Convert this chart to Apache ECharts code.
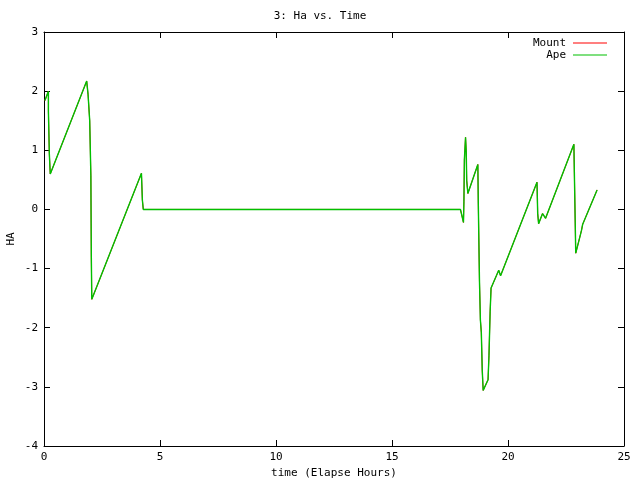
<!DOCTYPE html>
<html>
<head>
<meta charset="utf-8">
<script src="https://cdn.jsdelivr.net/npm/echarts@6/dist/echarts.min.js"></script>
<style>html,body{margin:0;padding:0;background:#fff}#c{width:640px;height:480px}</style>
</head>
<body>
<div id="c"></div>
<script>
// Elapsed hours and HA values
var hours = [0.04,0.19,0.19,0.23,0.27,1.84,1.90,1.97,2.02,2.04,2.06,4.20,4.24,4.28,17.95,18.00,18.04,18.08,18.10,18.12,18.17,18.20,18.22,18.27,18.70,18.72,18.77,18.81,18.85,18.89,18.93,19.14,19.18,19.23,19.27,19.60,19.68,21.25,21.28,21.32,21.49,21.62,22.84,22.86,22.90,22.92,23.12,23.17,23.22,23.84];
var mountHA = [1.84,2.00,1.66,0.94,0.60,2.17,1.94,1.50,0.57,-0.81,-1.52,0.61,0.16,0.00,0.00,0.03,-0.15,-0.22,0.13,0.84,1.22,0.97,0.49,0.27,0.76,0.10,-1.20,-1.87,-2.08,-2.72,-3.06,-2.88,-2.47,-1.73,-1.33,-1.03,-1.12,0.46,-0.07,-0.24,-0.07,-0.15,1.10,0.63,-0.28,-0.74,-0.43,-0.35,-0.25,0.33];
var apeHA = [1.84,2.00,1.66,0.94,0.60,2.17,1.94,1.50,0.57,-0.81,-1.52,0.61,0.16,0.00,0.00,0.03,-0.15,-0.22,0.13,0.84,1.22,0.97,0.49,0.27,0.76,0.10,-1.20,-1.87,-2.08,-2.72,-3.06,-2.88,-2.47,-1.73,-1.33,-1.03,-1.12,0.46,-0.07,-0.24,-0.07,-0.15,1.10,0.63,-0.28,-0.74,-0.43,-0.35,-0.25,0.33];
var seriesNames = ['Mount','Ape'];

function pairs(xs, ys){ return xs.map(function(x,i){ return [x, ys[i]]; }); }

var FONT = 'DejaVu Sans Mono';
var chart = echarts.init(document.getElementById('c'), null, {renderer:'canvas'});
function axisCommon(){
  return {
    axisLine:{show:true, onZero:false, lineStyle:{color:'#000', width:1}},
    axisTick:{show:true, inside:true, length:6, lineStyle:{color:'#000'}},
    splitLine:{show:false}
  };
}
chart.setOption({
  animation:false,
  backgroundColor:'#fff',
  title:{text:'3: Ha vs. Time', left:'center', top:6,
    textStyle:{fontFamily:FONT, fontSize:11, fontWeight:'normal', color:'#000'}},
  legend:{
    orient:'vertical', right:28, top:32, align:'right', itemGap:0,
    itemWidth:34, itemHeight:1, icon:'rect',
    data:seriesNames,
    textStyle:{fontFamily:FONT, fontSize:11, color:'#000', width:40, align:'right', lineHeight:12, padding:[0,2,0,0]}
  },
  grid:{left:44, right:16, top:32, bottom:34, containLabel:false, outerBoundsMode:'none'},
  xAxis:[
    Object.assign({type:'value', min:0, max:25, interval:5, position:'bottom',
      name:'time (Elapse Hours)', nameLocation:'middle', nameGap:22,
      nameTextStyle:{fontFamily:FONT, fontSize:11, color:'#000'},
      axisLabel:{fontFamily:FONT, fontSize:11, color:'#000', margin:6}}, axisCommon()),
    Object.assign({type:'value', min:0, max:25, interval:5, position:'top',
      axisLabel:{show:false}}, axisCommon())
  ],
  yAxis:[
    Object.assign({type:'value', min:-4, max:3, interval:1, position:'left',
      name:'HA', nameLocation:'middle', nameGap:27, nameRotate:90, nameMoveOverlap:false,
      nameTextStyle:{fontFamily:FONT, fontSize:11, color:'#000'},
      axisLabel:{fontFamily:FONT, fontSize:11, color:'#000', margin:6}}, axisCommon()),
    Object.assign({type:'value', min:-4, max:3, interval:1, position:'right',
      axisLabel:{show:false}}, axisCommon())
  ],
  series:[
    {name:seriesNames[0], type:'line', data:pairs(hours, mountHA), showSymbol:false, symbol:'none', z:1,
      lineStyle:{color:'#ff0000', width:1}, itemStyle:{color:'#ff0000'}},
    {name:seriesNames[1], type:'line', data:pairs(hours, apeHA), showSymbol:false, symbol:'none', z:2,
      lineStyle:{color:'#00c000', width:1.4}, itemStyle:{color:'#00c000'}}
  ]
});
</script>
</body>
</html>
